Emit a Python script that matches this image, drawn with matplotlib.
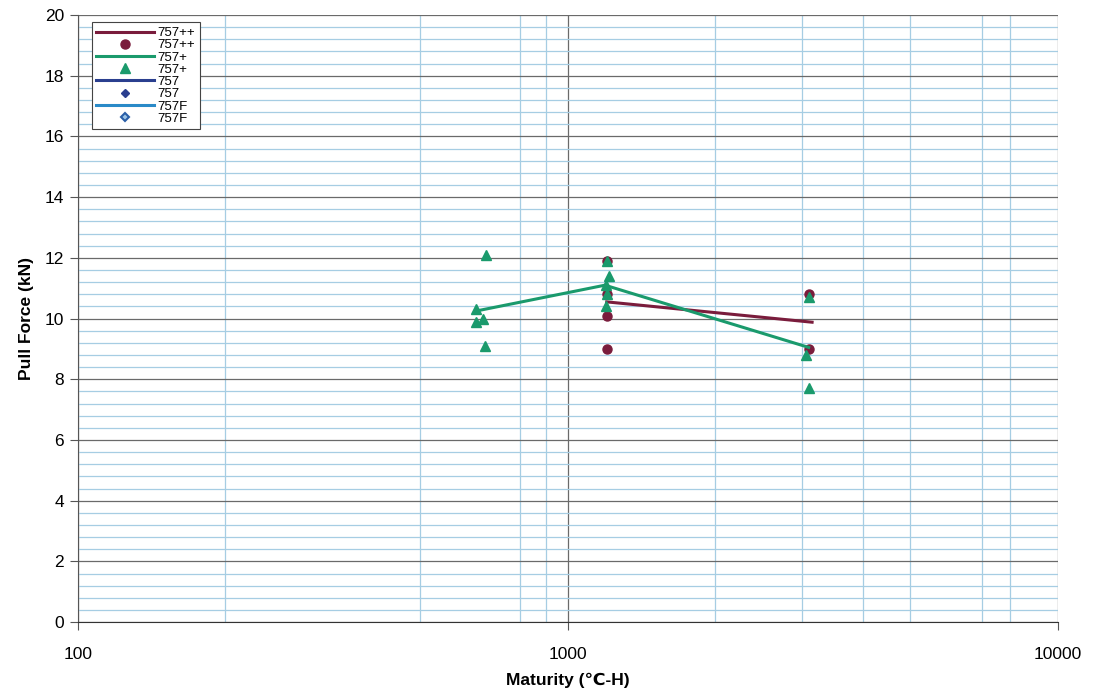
import numpy as np
import matplotlib
matplotlib.use('Agg')
import matplotlib.pyplot as plt
from matplotlib.ticker import FixedLocator, MultipleLocator, NullFormatter

plt.rcParams['font.family'] = ['Liberation Sans', 'DejaVu Sans']

# 757++ (maroon circles + mean line)
pp_x = [1200, 1200, 1200, 1200, 3100, 3100]
pp_y = [11.9, 10.8, 10.1, 9.0, 10.8, 9.0]
pp_line_x = [1200, 3150]
pp_line_y = [10.55, 9.88]

# 757+ (green triangles + mean line)
p_x = [680, 650, 650, 670, 678, 1200, 1215, 1195, 1200, 1195, 3100, 3060, 3110]
p_y = [12.1, 10.3, 9.9, 10.0, 9.1, 11.9, 11.4, 11.1, 10.8, 10.4, 10.7, 8.8, 7.7]
p_line_x = [650, 1190, 3100]
p_line_y = [10.25, 11.1, 9.05]

# vertical minor grid lines still visible on the scanned sheet
x_minor_grid = [200, 500, 800, 900, 2000, 3000, 4000, 5000, 7000, 8000]

maroon = '#7a1c3c'
green = '#1a9a6c'
navy = '#2a3f8f'
lblue = '#2a8ac8'

fig = plt.figure(figsize=(10.94, 6.99), dpi=100)
ax = fig.add_axes([0.0713, 0.110, 0.8957, 0.8685])

ax.set_xscale('log')
ax.set_xlim(100, 10000)
ax.set_ylim(0, 20)

# grid
ax.yaxis.set_major_locator(MultipleLocator(2))
ax.yaxis.set_minor_locator(MultipleLocator(0.4))
ax.xaxis.set_major_locator(FixedLocator([100, 1000, 10000]))
ax.xaxis.set_minor_locator(FixedLocator(x_minor_grid))
ax.xaxis.set_minor_formatter(NullFormatter())
ax.grid(which='minor', color='#a6cde3', linewidth=0.9)
ax.grid(which='major', color='#6a6a6a', linewidth=0.9)
ax.set_axisbelow(True)

ax.plot(pp_line_x, pp_line_y, color=maroon, lw=2.2, label='757++')
ax.plot(pp_x, pp_y, 'o', color=maroon, ms=6.5, ls='none', label='757++')
ax.plot(p_line_x, p_line_y, color=green, lw=2.2, label='757+')
ax.plot(p_x, p_y, '^', color=green, ms=7, ls='none', label='757+')
ax.plot([], [], color=navy, lw=2.2, label='757')
ax.plot([], [], 'D', color=navy, ms=4.5, ls='none', label='757')
ax.plot([], [], color=lblue, lw=2.2, label='757F')
ax.plot([], [], 'D', color='#2a5fa8', mfc='#9cc4e6', mew=1.5, ms=4.5, ls='none', label='757F')

leg = ax.legend(loc='upper left', bbox_to_anchor=(0.014, 0.988), fontsize=9.5,
                frameon=True, fancybox=False, edgecolor='#444444', framealpha=1,
                handlelength=4.4, handletextpad=0.25, labelspacing=0.0,
                borderpad=0.35, borderaxespad=0)
leg.get_frame().set_linewidth(0.8)

for s in ['top', 'right']:
    ax.spines[s].set_visible(False)
ax.spines['left'].set_color('#555555')
ax.spines['bottom'].set_color('#333333')

ax.tick_params(axis='y', which='major', length=6, labelsize=12.5, pad=4, color='#555555')
ax.tick_params(axis='y', which='minor', length=0)
ax.tick_params(axis='x', which='major', length=6, labelsize=12.5, pad=12, color='#555555')
ax.tick_params(axis='x', which='minor', length=0)
ax.set_xticklabels(['100', '1000', '10000'])

ax.set_xlabel('Maturity (\u2103-H)', fontsize=12.5, fontweight='bold', labelpad=8)
ax.set_ylabel('Pull Force (kN)', fontsize=12.5, fontweight='bold', labelpad=8)

fig.savefig('out.png', dpi=100)
